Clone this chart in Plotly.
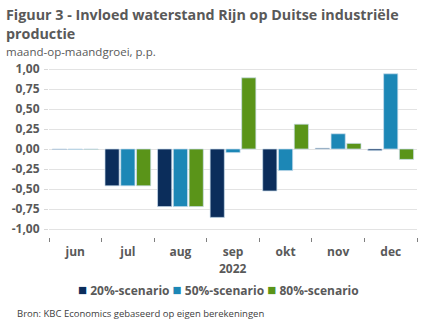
import plotly.graph_objects as go

months = ["jun", "jul", "aug", "sep", "okt", "nov", "dec"]
s20 = [-0.005, -0.46, -0.72, -0.855, -0.525, 0.01, -0.02]
s50 = [-0.005, -0.46, -0.72, -0.045, -0.27, 0.19, 0.94]
s80 = [-0.005, -0.46, -0.72, 0.89, 0.31, 0.07, -0.13]
names = ["20%-scenario", "50%-scenario", "80%-scenario"]
colors = ["#0b2d5b", "#1c87b6", "#5a9419"]
ytick_vals = [1.0, 0.75, 0.5, 0.25, 0.0, -0.25, -0.5, -0.75, -1.0]
ytick_text = ["1,00", "0,75", "0,50", "0,25", "0,00", "-0,25", "-0,50", "-0,75", "-1,00"]

FONT = "Open Sans"
GRAY = "#595959"

fig = go.Figure()
for name, vals, col in zip(names, [s20, s50, s80], colors):
    fig.add_trace(go.Bar(
        x=months, y=vals, name=name, showlegend=False,
        marker=dict(color=col, line=dict(color="rgba(200,220,235,0.9)", width=0.8)),
    ))

legend_text = " ".join(
    f"<span style='color:{c};font-size:15px'>■</span> <b>{n}</b>" for n, c in zip(names, colors)
)

H = 172  # plot area height in px (t=65, b=95)
def py(pix):
    return 1 - (pix - 65) / H

fig.update_layout(
    width=432, height=332,
    margin=dict(l=45, r=15, t=65, b=95),
    paper_bgcolor="white", plot_bgcolor="white",
    barmode="group", bargap=0.1, bargroupgap=0.1,
    font=dict(family=FONT, color=GRAY, size=12),
    showlegend=False,
    xaxis=dict(
        type="category", showgrid=False, zeroline=False, showline=False,
        ticks="outside", tickson="boundaries", ticklen=4, tickcolor="#7f7f7f",
        ticklabelstandoff=6,
        tickfont=dict(family=FONT, size=12, color=GRAY, weight="bold"),
        fixedrange=True,
    ),
    yaxis=dict(
        range=[-1.1, 1.05], tickvals=ytick_vals, ticktext=ytick_text,
        showgrid=True, gridcolor="#e3e3e3", gridwidth=1,
        zeroline=True, zerolinecolor="#e3e3e3", zerolinewidth=1,
        ticks="outside", ticklen=4, tickcolor="#d9d9d9",
        ticklabelstandoff=2,
        tickfont=dict(family=FONT, size=12, color=GRAY, weight="bold"),
        showline=False, fixedrange=True,
    ),
    annotations=[
        dict(text="<b>Figuur 3 - Invloed waterstand Rijn op Duitse industriële<br>productie</b>",
             xref="paper", yref="paper", x=-45/372, y=py(24),
             xanchor="left", yanchor="middle", align="left", showarrow=False,
             font=dict(family=FONT, size=14.3, color=GRAY)),
        dict(text="maand-op-maandgroei, p.p.",
             xref="paper", yref="paper", x=-45/372, y=py(51),
             xanchor="left", yanchor="middle", align="left", showarrow=False,
             font=dict(family=FONT, size=11.5, color=GRAY)),
        dict(text="<b>2022</b>", xref="x", yref="paper", x="sep", y=py(268),
             xanchor="center", yanchor="middle", showarrow=False,
             font=dict(family=FONT, size=12, color=GRAY)),
        dict(text=legend_text, xref="paper", yref="paper", x=(216 - 45) / 372,
             y=py(289), xanchor="center", yanchor="middle", showarrow=False,
             font=dict(family=FONT, size=12, color=GRAY)),
        dict(text="Bron: KBC Economics gebaseerd op eigen berekeningen",
             xref="paper", yref="paper", x=-34/372, y=py(313),
             xanchor="left", yanchor="middle", showarrow=False,
             font=dict(family=FONT, size=9.5, color="#404040")),
    ],
)

fig.write_html("out.html", config={"displayModeBar": False})
